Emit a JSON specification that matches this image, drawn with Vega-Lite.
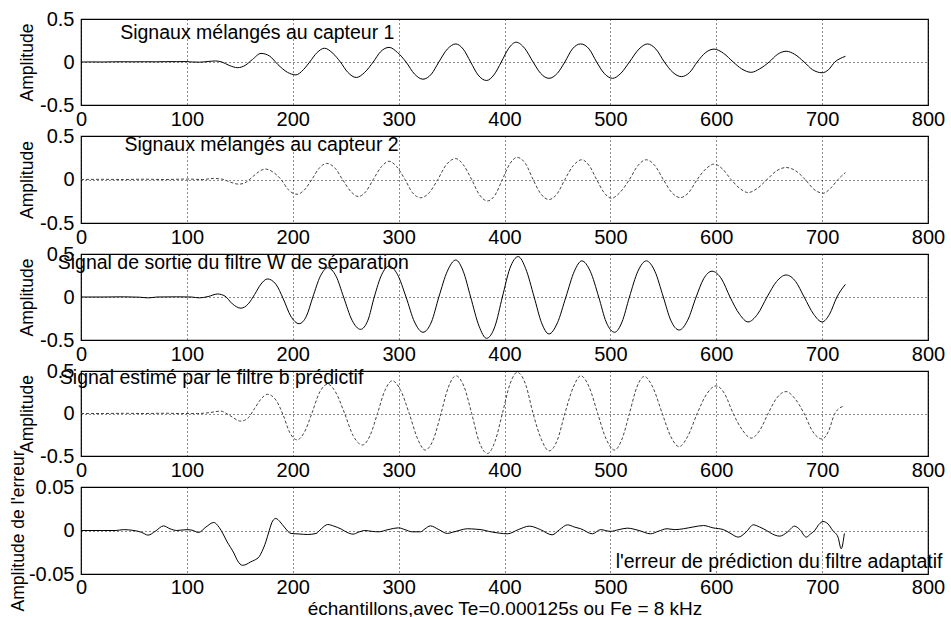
{
  "$schema": "https://vega.github.io/schema/vega-lite/v6.json",
  "background": "white",
  "padding": {"left": 8, "top": 8, "right": 4, "bottom": 2},
  "bounds": "flush",
  "spacing": 31,
  "config": {
    "font": "Liberation Sans",
    "view": {"stroke": "black", "strokeWidth": 1.2},
    "axis": {
      "labelFont": "Liberation Sans", "labelFontSize": 20, "labelColor": "black",
      "titleFont": "Liberation Sans", "titleFontSize": 17.5, "titleFontWeight": "normal", "titleColor": "black",
      "domain": false, "ticks": false, "labelFlush": false, "labelOverlap": false,
      "gridColor": "black", "gridDash": [1, 3], "gridOpacity": 0.9, "gridWidth": 1
    }
  },
  "datasets": {
    "s1": [
      {"x":0,"y":0},{"x":10,"y":0.001},{"x":20,"y":0},{"x":30,"y":0.002},{"x":40,"y":0.003},{"x":50,"y":0.002},{"x":60,"y":0.003},{"x":70,"y":0.002},{"x":80,"y":0.004},{"x":90,"y":0.004},{"x":100,"y":0.005},{"x":105,"y":0},{"x":112,"y":-0.002},{"x":120,"y":0.006},{"x":127,"y":0.012},{"x":133,"y":0},{"x":140,"y":-0.04},{"x":148,"y":-0.066},{"x":155,"y":-0.04},{"x":162,"y":0.03},{"x":170,"y":0.1},{"x":178,"y":0.07},{"x":186,"y":-0.03},{"x":195,"y":-0.12},{"x":203,"y":-0.15},{"x":210,"y":-0.09},{"x":216,"y":0},{"x":223,"y":0.11},{"x":230,"y":0.16},{"x":238,"y":0.1},{"x":245,"y":0},{"x":252,"y":-0.12},{"x":260,"y":-0.18},{"x":268,"y":-0.12},{"x":276,"y":0},{"x":283,"y":0.12},{"x":291,"y":0.17},{"x":299,"y":0.11},{"x":307,"y":0},{"x":315,"y":-0.14},{"x":323,"y":-0.2},{"x":331,"y":-0.14},{"x":338,"y":0},{"x":346,"y":0.15},{"x":354,"y":0.21},{"x":361,"y":0.15},{"x":368,"y":0},{"x":375,"y":-0.15},{"x":383,"y":-0.215},{"x":390,"y":-0.15},{"x":397,"y":0},{"x":404,"y":0.16},{"x":411,"y":0.23},{"x":419,"y":0.16},{"x":427,"y":0},{"x":434,"y":-0.13},{"x":442,"y":-0.19},{"x":450,"y":-0.13},{"x":457,"y":0},{"x":464,"y":0.15},{"x":472,"y":0.21},{"x":480,"y":0.15},{"x":487,"y":0},{"x":494,"y":-0.13},{"x":502,"y":-0.19},{"x":510,"y":-0.13},{"x":518,"y":0},{"x":527,"y":0.15},{"x":535,"y":0.21},{"x":543,"y":0.15},{"x":551,"y":0},{"x":559,"y":-0.12},{"x":567,"y":-0.17},{"x":575,"y":-0.12},{"x":582,"y":0},{"x":590,"y":0.11},{"x":598,"y":0.15},{"x":607,"y":0.1},{"x":616,"y":0},{"x":624,"y":-0.08},{"x":633,"y":-0.12},{"x":641,"y":-0.08},{"x":650,"y":0},{"x":658,"y":0.09},{"x":666,"y":0.125},{"x":674,"y":0.09},{"x":683,"y":0},{"x":691,"y":-0.09},{"x":700,"y":-0.125},{"x":706,"y":-0.09},{"x":712,"y":0},{"x":717,"y":0.04},{"x":722,"y":0.066}
    ],
    "s2": [
      {"x":0,"y":0},{"x":20,"y":0.002},{"x":40,"y":0},{"x":60,"y":0.003},{"x":80,"y":0},{"x":100,"y":0.005},{"x":115,"y":0},{"x":125,"y":0.012},{"x":133,"y":0.005},{"x":141,"y":-0.03},{"x":149,"y":-0.054},{"x":156,"y":-0.03},{"x":162,"y":0.03},{"x":168,"y":0.09},{"x":174,"y":0.12},{"x":182,"y":0.08},{"x":189,"y":0},{"x":196,"y":-0.12},{"x":204,"y":-0.17},{"x":211,"y":-0.12},{"x":218,"y":0},{"x":225,"y":0.13},{"x":232,"y":0.185},{"x":240,"y":0.13},{"x":247,"y":0},{"x":255,"y":-0.14},{"x":262,"y":-0.196},{"x":269,"y":-0.14},{"x":276,"y":0},{"x":284,"y":0.15},{"x":291,"y":0.21},{"x":298,"y":0.15},{"x":306,"y":0},{"x":313,"y":-0.15},{"x":321,"y":-0.21},{"x":329,"y":-0.15},{"x":337,"y":0},{"x":345,"y":0.17},{"x":354,"y":0.24},{"x":361,"y":0.17},{"x":369,"y":0},{"x":376,"y":-0.17},{"x":384,"y":-0.246},{"x":391,"y":-0.18},{"x":398,"y":0},{"x":405,"y":0.18},{"x":412,"y":0.254},{"x":420,"y":0.18},{"x":427,"y":0},{"x":434,"y":-0.16},{"x":442,"y":-0.23},{"x":450,"y":-0.16},{"x":457,"y":0},{"x":465,"y":0.16},{"x":473,"y":0.227},{"x":480,"y":0.16},{"x":487,"y":0},{"x":494,"y":-0.15},{"x":501,"y":-0.215},{"x":509,"y":-0.15},{"x":518,"y":0},{"x":526,"y":0.16},{"x":534,"y":0.227},{"x":542,"y":0.16},{"x":550,"y":0},{"x":558,"y":-0.15},{"x":566,"y":-0.208},{"x":574,"y":-0.15},{"x":582,"y":0},{"x":590,"y":0.12},{"x":598,"y":0.177},{"x":606,"y":0.12},{"x":614,"y":0},{"x":622,"y":-0.1},{"x":630,"y":-0.15},{"x":639,"y":-0.1},{"x":648,"y":0},{"x":657,"y":0.1},{"x":666,"y":0.138},{"x":675,"y":0.1},{"x":684,"y":0},{"x":692,"y":-0.11},{"x":701,"y":-0.158},{"x":708,"y":-0.1},{"x":715,"y":0},{"x":722,"y":0.08}
    ],
    "s3": [
      {"x":0,"y":0},{"x":20,"y":0},{"x":40,"y":0.002},{"x":55,"y":-0.002},{"x":64,"y":-0.01},{"x":72,"y":0},{"x":90,"y":0.002},{"x":104,"y":0},{"x":112,"y":-0.01},{"x":120,"y":0.005},{"x":129,"y":0.035},{"x":136,"y":0.01},{"x":143,"y":-0.08},{"x":151,"y":-0.13},{"x":158,"y":-0.08},{"x":164,"y":0.03},{"x":170,"y":0.15},{"x":176,"y":0.21},{"x":184,"y":0.15},{"x":191,"y":-0.02},{"x":198,"y":-0.22},{"x":206,"y":-0.31},{"x":213,"y":-0.22},{"x":219,"y":0},{"x":226,"y":0.24},{"x":233,"y":0.34},{"x":241,"y":0.24},{"x":248,"y":0},{"x":256,"y":-0.27},{"x":264,"y":-0.376},{"x":271,"y":-0.27},{"x":277,"y":0},{"x":284,"y":0.26},{"x":291,"y":0.36},{"x":299,"y":0.26},{"x":307,"y":0},{"x":315,"y":-0.29},{"x":323,"y":-0.41},{"x":331,"y":-0.29},{"x":338,"y":0},{"x":346,"y":0.3},{"x":354,"y":0.43},{"x":361,"y":0.3},{"x":368,"y":0},{"x":376,"y":-0.34},{"x":383,"y":-0.48},{"x":391,"y":-0.34},{"x":398,"y":0},{"x":405,"y":0.33},{"x":413,"y":0.47},{"x":420,"y":0.33},{"x":428,"y":0},{"x":435,"y":-0.3},{"x":442,"y":-0.43},{"x":450,"y":-0.3},{"x":458,"y":0},{"x":466,"y":0.3},{"x":473,"y":0.42},{"x":481,"y":0.3},{"x":489,"y":0},{"x":496,"y":-0.29},{"x":504,"y":-0.41},{"x":511,"y":-0.29},{"x":518,"y":0},{"x":526,"y":0.3},{"x":534,"y":0.42},{"x":542,"y":0.3},{"x":550,"y":0},{"x":557,"y":-0.27},{"x":565,"y":-0.384},{"x":573,"y":-0.27},{"x":581,"y":0},{"x":588,"y":0.21},{"x":596,"y":0.3},{"x":605,"y":0.21},{"x":613,"y":0},{"x":622,"y":-0.2},{"x":630,"y":-0.29},{"x":639,"y":-0.2},{"x":648,"y":0},{"x":657,"y":0.18},{"x":666,"y":0.256},{"x":675,"y":0.18},{"x":683,"y":0},{"x":692,"y":-0.2},{"x":700,"y":-0.29},{"x":707,"y":-0.2},{"x":714,"y":0},{"x":722,"y":0.147}
    ],
    "s4": [
      {"x":0,"y":0},{"x":20,"y":0},{"x":40,"y":0.002},{"x":60,"y":0},{"x":80,"y":0.003},{"x":95,"y":0},{"x":110,"y":0},{"x":120,"y":0.008},{"x":132,"y":0.028},{"x":140,"y":-0.02},{"x":151,"y":-0.09},{"x":158,"y":-0.05},{"x":164,"y":0.06},{"x":170,"y":0.17},{"x":176,"y":0.226},{"x":184,"y":0.16},{"x":191,"y":-0.02},{"x":197,"y":-0.22},{"x":204,"y":-0.31},{"x":211,"y":-0.22},{"x":218,"y":0},{"x":225,"y":0.24},{"x":233,"y":0.345},{"x":241,"y":0.24},{"x":249,"y":0},{"x":257,"y":-0.26},{"x":266,"y":-0.37},{"x":273,"y":-0.26},{"x":280,"y":0},{"x":287,"y":0.27},{"x":294,"y":0.385},{"x":302,"y":0.27},{"x":310,"y":0},{"x":318,"y":-0.3},{"x":325,"y":-0.43},{"x":333,"y":-0.3},{"x":340,"y":0},{"x":347,"y":0.31},{"x":354,"y":0.444},{"x":362,"y":0.31},{"x":369,"y":0},{"x":376,"y":-0.33},{"x":384,"y":-0.47},{"x":391,"y":-0.33},{"x":398,"y":0},{"x":405,"y":0.34},{"x":412,"y":0.484},{"x":420,"y":0.34},{"x":427,"y":0},{"x":435,"y":-0.31},{"x":442,"y":-0.44},{"x":450,"y":-0.31},{"x":457,"y":0},{"x":465,"y":0.31},{"x":472,"y":0.444},{"x":480,"y":0.31},{"x":488,"y":0},{"x":496,"y":-0.3},{"x":504,"y":-0.43},{"x":511,"y":-0.3},{"x":518,"y":0},{"x":525,"y":0.31},{"x":532,"y":0.436},{"x":540,"y":0.31},{"x":549,"y":0},{"x":557,"y":-0.27},{"x":565,"y":-0.39},{"x":573,"y":-0.27},{"x":582,"y":0},{"x":591,"y":0.23},{"x":600,"y":0.325},{"x":608,"y":0.23},{"x":616,"y":0},{"x":625,"y":-0.2},{"x":633,"y":-0.29},{"x":641,"y":-0.2},{"x":649,"y":0},{"x":657,"y":0.18},{"x":666,"y":0.258},{"x":674,"y":0.18},{"x":683,"y":0},{"x":691,"y":-0.21},{"x":700,"y":-0.3},{"x":706,"y":-0.21},{"x":712,"y":0},{"x":720,"y":0.087}
    ],
    "s5": [
      {"x":0,"y":0},{"x":20,"y":0},{"x":33,"y":0},{"x":40,"y":0.001},{"x":50,"y":0},{"x":57,"y":-0.002},{"x":63.5,"y":-0.0053},{"x":70,"y":-0.001},{"x":78,"y":0.0053},{"x":84,"y":0.002},{"x":90.5,"y":0},{"x":100,"y":0.001},{"x":106,"y":0},{"x":111,"y":-0.0023},{"x":118,"y":0.004},{"x":125.4,"y":0.0092},{"x":129,"y":0.006},{"x":132.4,"y":0},{"x":138,"y":-0.013},{"x":144.4,"y":-0.026},{"x":148,"y":-0.035},{"x":152.4,"y":-0.04},{"x":156,"y":-0.039},{"x":160.3,"y":-0.036},{"x":164,"y":-0.034},{"x":168.3,"y":-0.03},{"x":171,"y":-0.024},{"x":174.6,"y":-0.013},{"x":177.8,"y":0},{"x":181,"y":0.011},{"x":184,"y":0.0138},{"x":188,"y":0.01},{"x":192,"y":0.004},{"x":198.4,"y":-0.0034},{"x":206,"y":-0.004},{"x":214,"y":-0.0046},{"x":222,"y":-0.0034},{"x":227,"y":0.002},{"x":233,"y":0.0069},{"x":239,"y":0.005},{"x":246,"y":0.0015},{"x":251,"y":-0.002},{"x":257,"y":-0.0042},{"x":262,"y":-0.002},{"x":268,"y":0},{"x":275,"y":-0.001},{"x":281,"y":-0.0015},{"x":290,"y":0.001},{"x":300,"y":0.003},{"x":306,"y":0.001},{"x":312.7,"y":-0.0015},{"x":320.7,"y":-0.0015},{"x":325,"y":0.002},{"x":330,"y":0.0053},{"x":338,"y":0.001},{"x":346,"y":-0.0034},{"x":351,"y":-0.002},{"x":357,"y":0},{"x":365,"y":0.002},{"x":373,"y":0.0015},{"x":378,"y":0.001},{"x":385,"y":-0.001},{"x":395,"y":-0.003},{"x":403,"y":-0.0038},{"x":413,"y":0.001},{"x":423.5,"y":0.005},{"x":434,"y":0.001},{"x":445,"y":-0.005},{"x":452,"y":0.001},{"x":459.5,"y":0.0065},{"x":466,"y":0.004},{"x":472,"y":0.002},{"x":483,"y":-0.0038},{"x":490.8,"y":0.001},{"x":500,"y":-0.001},{"x":508,"y":0.001},{"x":516,"y":0.0027},{"x":527,"y":0},{"x":538,"y":-0.0038},{"x":545,"y":-0.001},{"x":553.5,"y":0.002},{"x":561,"y":0.001},{"x":569,"y":0.002},{"x":578,"y":0.004},{"x":588,"y":0.0057},{"x":597,"y":0.003},{"x":606.8,"y":0.001},{"x":613,"y":-0.003},{"x":620.9,"y":-0.0076},{"x":628,"y":-0.002},{"x":635,"y":0.0065},{"x":641,"y":0.004},{"x":647.5,"y":0},{"x":653,"y":-0.004},{"x":660,"y":-0.0065},{"x":667,"y":-0.002},{"x":674,"y":0.005},{"x":679,"y":0.001},{"x":685,"y":-0.0076},{"x":689,"y":-0.004},{"x":693,"y":0},{"x":697,"y":0.007},{"x":700.8,"y":0.0103},{"x":705.5,"y":0.0076},{"x":710,"y":0},{"x":715,"y":-0.0076},{"x":718,"y":-0.021},{"x":721,"y":-0.0034}
    ]
  },
  "vconcat": [
    {
      "width": 847, "height": 86,
      "layer": [
        {
          "data": {"name": "s1"},
          "mark": {"type": "line", "interpolate": "monotone", "color": "black", "strokeWidth": 1},
          "encoding": {
            "x": {"field": "x", "type": "quantitative", "scale": {"domain": [0, 800], "nice": false}, "axis": {"values": [0,100,200,300,400,500,600,700,800], "title": null, "labelPadding": 4, "grid": true}},
            "y": {"field": "y", "type": "quantitative", "scale": {"domain": [-0.5, 0.5], "nice": false}, "axis": {"values": [-0.5, 0, 0.5], "title": "Amplitude", "labelExpr": "datum.value == 0 ? '0' : (datum.value > 0 ? '0.5' : '-0.5')", "labelPadding": 7, "titlePadding": 3, "grid": true}}
          }
        },
        {
          "data": {"values": [{}]},
          "mark": {"type": "text", "align": "left", "baseline": "middle", "fontSize": 19.5, "font": "Liberation Sans", "color": "black"},
          "encoding": {"x": {"datum": 37, "type": "quantitative"}, "y": {"datum": 0.34, "type": "quantitative"}, "text": {"value": "Signaux mélangés au capteur 1"}}
        }
      ]
    },
    {
      "width": 847, "height": 87,
      "layer": [
        {
          "data": {"name": "s2"},
          "mark": {"type": "line", "interpolate": "monotone", "color": "#444444", "strokeWidth": 1, "strokeDash": [3, 2]},
          "encoding": {
            "x": {"field": "x", "type": "quantitative", "scale": {"domain": [0, 800], "nice": false}, "axis": {"values": [0,100,200,300,400,500,600,700,800], "title": null, "labelPadding": 4, "grid": true}},
            "y": {"field": "y", "type": "quantitative", "scale": {"domain": [-0.5, 0.5], "nice": false}, "axis": {"values": [-0.5, 0, 0.5], "title": "Amplitude", "labelExpr": "datum.value == 0 ? '0' : (datum.value > 0 ? '0.5' : '-0.5')", "labelPadding": 7, "titlePadding": 3, "grid": true}}
          }
        },
        {
          "data": {"values": [{}]},
          "mark": {"type": "text", "align": "left", "baseline": "middle", "fontSize": 19.5, "font": "Liberation Sans", "color": "black"},
          "encoding": {"x": {"datum": 41, "type": "quantitative"}, "y": {"datum": 0.4, "type": "quantitative"}, "text": {"value": "Signaux mélangés au capteur 2"}}
        }
      ]
    },
    {
      "width": 847, "height": 86,
      "layer": [
        {
          "data": {"name": "s3"},
          "mark": {"type": "line", "interpolate": "monotone", "color": "black", "strokeWidth": 1},
          "encoding": {
            "x": {"field": "x", "type": "quantitative", "scale": {"domain": [0, 800], "nice": false}, "axis": {"values": [0,100,200,300,400,500,600,700,800], "title": null, "labelPadding": 4, "grid": true}},
            "y": {"field": "y", "type": "quantitative", "scale": {"domain": [-0.5, 0.5], "nice": false}, "axis": {"values": [-0.5, 0, 0.5], "title": "Amplitude", "labelExpr": "datum.value == 0 ? '0' : (datum.value > 0 ? '0.5' : '-0.5')", "labelPadding": 7, "titlePadding": 3, "grid": true}}
          }
        },
        {
          "data": {"values": [{}]},
          "mark": {"type": "text", "align": "left", "baseline": "middle", "fontSize": 19.5, "font": "Liberation Sans", "color": "black"},
          "encoding": {"x": {"datum": -22, "type": "quantitative"}, "y": {"datum": 0.4, "type": "quantitative"}, "text": {"value": "Signal de sortie du filtre W de séparation"}}
        }
      ]
    },
    {
      "width": 847, "height": 85,
      "layer": [
        {
          "data": {"name": "s4"},
          "mark": {"type": "line", "interpolate": "monotone", "color": "#444444", "strokeWidth": 1, "strokeDash": [3, 2]},
          "encoding": {
            "x": {"field": "x", "type": "quantitative", "scale": {"domain": [0, 800], "nice": false}, "axis": {"values": [0,100,200,300,400,500,600,700,800], "title": null, "labelPadding": 4, "grid": true}},
            "y": {"field": "y", "type": "quantitative", "scale": {"domain": [-0.5, 0.5], "nice": false}, "axis": {"values": [-0.5, 0, 0.5], "title": "Amplitude", "labelExpr": "datum.value == 0 ? '0' : (datum.value > 0 ? '0.5' : '-0.5')", "labelPadding": 7, "titlePadding": 3, "grid": true}}
          }
        },
        {
          "data": {"values": [{}]},
          "mark": {"type": "text", "align": "left", "baseline": "middle", "fontSize": 19.5, "font": "Liberation Sans", "color": "black"},
          "encoding": {"x": {"datum": -20, "type": "quantitative"}, "y": {"datum": 0.42, "type": "quantitative"}, "text": {"value": "Signal estimé par le filtre b prédictif"}}
        }
      ]
    },
    {
      "width": 847, "height": 87,
      "layer": [
        {
          "data": {"name": "s5"},
          "mark": {"type": "line", "interpolate": "monotone", "color": "black", "strokeWidth": 1},
          "encoding": {
            "x": {"field": "x", "type": "quantitative", "scale": {"domain": [0, 800], "nice": false}, "axis": {"values": [0,100,200,300,400,500,600,700,800], "title": "échantillons,avec Te=0.000125s ou Fe = 8 kHz", "titleFontSize": 19, "labelPadding": 3, "titlePadding": 2, "grid": true}},
            "y": {"field": "y", "type": "quantitative", "scale": {"domain": [-0.05, 0.05], "nice": false}, "axis": {"values": [-0.05, 0, 0.05], "title": "Amplitude de l'erreur", "labelExpr": "datum.value == 0 ? '0' : (datum.value > 0 ? '0.05' : '-0.05')", "labelPadding": 7, "titlePadding": 1, "grid": true}}
          }
        },
        {
          "data": {"values": [{}]},
          "mark": {"type": "text", "align": "left", "baseline": "middle", "fontSize": 19.5, "font": "Liberation Sans", "color": "black"},
          "encoding": {"x": {"datum": 505, "type": "quantitative"}, "y": {"datum": -0.036, "type": "quantitative"}, "text": {"value": "l'erreur de prédiction du filtre adaptatif"}}
        }
      ]
    }
  ]
}
